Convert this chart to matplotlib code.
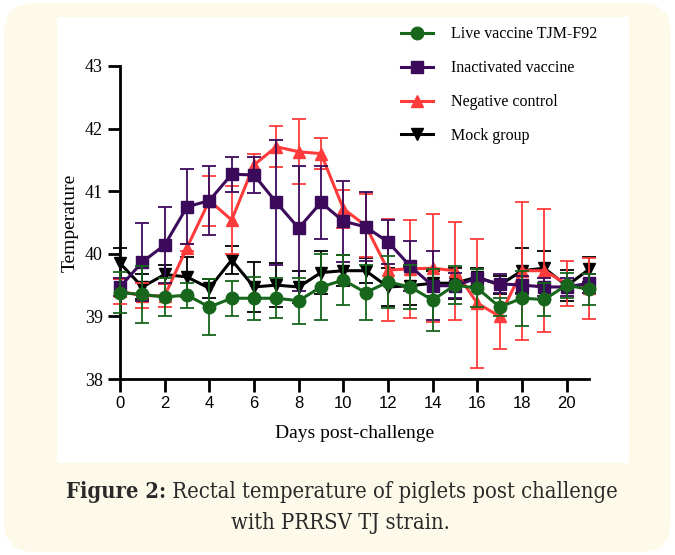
import numpy as np
import matplotlib
matplotlib.use("Agg")
import matplotlib.pyplot as plt
from matplotlib.patches import FancyBboxPatch, Rectangle
from matplotlib.lines import Line2D

# Days post-challenge
days = list(range(22))

# mean rectal temperature per group
live_mean = [39.38, 39.35, 39.31, 39.34, 39.15, 39.29, 39.29, 39.29, 39.25, 39.47, 39.58,
             39.38, 39.55, 39.47, 39.26, 39.50, 39.45, 39.15, 39.29, 39.27, 39.50, 39.43]
inact_mean = [39.47, 39.87, 40.14, 40.75, 40.85, 41.27, 41.26, 40.82, 40.41, 40.82, 40.52,
              40.43, 40.19, 39.80, 39.49, 39.49, 39.61, 39.52, 39.50, 39.47, 39.47, 39.53]
neg_mean = [39.40, 39.33, 39.33, 40.10, 40.85, 40.54, 41.42, 41.71, 41.63, 41.60, 40.72,
            40.45, 39.74, 39.76, 39.77, 39.73, 39.21, 39.00, 39.73, 39.73, 39.52, 39.45]
mock_mean = [39.85, 39.47, 39.67, 39.63, 39.45, 39.90, 39.47, 39.50, 39.47, 39.70, 39.73,
             39.73, 39.47, 39.49, 39.53, 39.53, 39.63, 39.50, 39.73, 39.77, 39.49, 39.75]

# standard deviations (error bars)
live_sd = [0.33, 0.46, 0.30, 0.20, 0.45, 0.28, 0.34, 0.32, 0.37, 0.53, 0.40,
           0.44, 0.42, 0.35, 0.50, 0.30, 0.30, 0.15, 0.44, 0.27, 0.20, 0.25]
inact_sd = [0.15, 0.62, 0.60, 0.60, 0.55, 0.28, 0.29, 1.00, 1.00, 0.58, 0.65,
            0.55, 0.35, 0.40, 0.55, 0.20, 0.15, 0.15, 0.15, 0.15, 0.15, 0.15]
neg_sd = [0.20, 0.20, 0.18, 0.05, 0.40, 0.55, 0.18, 0.33, 0.52, 0.25, 0.30,
          0.50, 0.82, 0.78, 0.86, 0.78, 1.03, 0.52, 1.10, 0.98, 0.36, 0.49]
mock_sd = [0.25, 0.20, 0.15, 0.32, 0.15, 0.22, 0.40, 0.35, 0.25, 0.35, 0.25,
           0.20, 0.30, 0.30, 0.20, 0.25, 0.15, 0.15, 0.36, 0.27, 0.25, 0.20]

x_ticks = list(range(0, 21, 2))
y_ticks = [38, 39, 40, 41, 42, 43]

W, H = 675, 555
fig = plt.figure(figsize=(W / 100, H / 100), dpi=100)
fig.patch.set_facecolor("white")

# cream card with rounded corners and white chart panel
card = FancyBboxPatch((4 / W, 3 / H), 667 / W, 549 / H,
                      boxstyle="round,pad=0,rounding_size=0.045",
                      transform=fig.transFigure, facecolor="#fefaea",
                      edgecolor="none", zorder=0, mutation_aspect=W / H)
fig.patches.append(card)
panel = Rectangle((57 / W, 1 - 463 / H), (629 - 57) / W, (463 - 17) / H,
                  transform=fig.transFigure, facecolor="white", edgecolor="none", zorder=1)
fig.patches.append(panel)

ax = fig.add_axes([120 / W, 1 - 379 / H, (589 - 120) / W, (379 - 66) / H])
ax.set_facecolor("none")
ax.set_zorder(2)

groups = [
    ("Mock group", mock_mean, mock_sd, "black", "v"),
    ("Negative control", neg_mean, neg_sd, "#ff3b3b", "^"),
    ("Inactivated vaccine", inact_mean, inact_sd, "#3b0a5a", "s"),
    ("Live vaccine TJM-F92", live_mean, live_sd, "#17661c", "o"),
]
handles = {}
for z, (name, m, s, col, mk) in enumerate(groups):
    ax.errorbar(days, m, yerr=s, color=col, marker=mk, markersize=9,
                linewidth=2.2, elinewidth=1.3, capsize=5, capthick=1.3,
                clip_on=False, zorder=3 + z)
    handles[name] = Line2D([], [], color=col, marker=mk, markersize=9, linewidth=2.2)

ax.set_xlim(0, 21)
ax.set_ylim(38, 43)
ax.set_xticks(x_ticks)
ax.set_yticks(y_ticks)
for sp in ["top", "right"]:
    ax.spines[sp].set_visible(False)
for sp in ["left", "bottom"]:
    ax.spines[sp].set_linewidth(2)
ax.tick_params(axis="both", direction="out", length=9, width=2)
ax.set_xticklabels([str(t) for t in x_ticks], family="Liberation Sans", fontsize=12)
ax.set_yticklabels([str(t) for t in y_ticks], family="Liberation Serif", fontsize=13)
ax.set_xlabel("Days post-challenge", family="Liberation Serif", fontsize=14, labelpad=10)
ax.set_ylabel("Temperature", family="Liberation Serif", fontsize=14, labelpad=4)

order = ["Live vaccine TJM-F92", "Inactivated vaccine", "Negative control", "Mock group"]
fig.legend([handles[n] for n in order], order, loc="upper left",
           bbox_to_anchor=(387 / W, 1 - 12 / H), frameon=False,
           prop={"family": "Liberation Serif", "size": 11.5},
           labelspacing=1.12, handlelength=2.0, handletextpad=1.1)

# caption, autofit to the reference line width
cap = dict(family="DejaVu Serif", fontstretch="condensed", color="#2a2a2a", va="center")
fig.canvas.draw()
r = fig.canvas.get_renderer()
fs = 15.0
t1 = fig.text(0, 1 - 492 / H, "Figure 2:", fontweight="bold", fontsize=fs, ha="left", **cap)
t2 = fig.text(0, 1 - 492 / H, " Rectal temperature of piglets post challenge",
              fontsize=fs, ha="left", **cap)
total = t1.get_window_extent(r).width + t2.get_window_extent(r).width
fs = fs * 550 / total
t1.set_fontsize(fs)
t2.set_fontsize(fs)
w1 = t1.get_window_extent(r).width
w2 = t2.get_window_extent(r).width
x0 = 342 - (w1 + w2) / 2
t1.set_x(x0 / W)
t2.set_x((x0 + w1) / W)
fig.text(340 / W, 1 - 523 / H, "with PRRSV TJ strain.", fontsize=fs, ha="center", **cap)

fig.savefig("out.png", dpi=100)
